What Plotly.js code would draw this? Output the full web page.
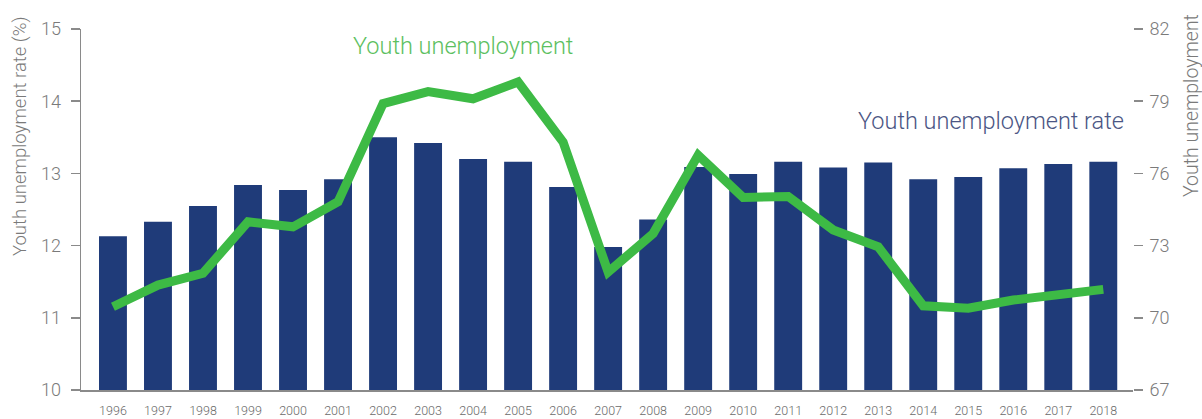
<!DOCTYPE html>
<html>
<head>
<meta charset="utf-8">
<script src="https://cdn.plot.ly/plotly-3.0.1.min.js"></script>
<style>html,body{margin:0;padding:0;background:#fff;}#chart{width:1202px;height:419px;}</style>
</head>
<body>
<div id="chart"></div>
<script>
const years = ['1996','1997','1998','1999','2000','2001','2002','2003','2004','2005','2006','2007','2008','2009','2010','2011','2012','2013','2014','2015','2016','2017','2018'];
const rate = [12.13, 12.33, 12.55, 12.84, 12.77, 12.92, 13.50, 13.42, 13.20, 13.16, 12.81, 11.98, 12.36, 13.09, 12.99, 13.16, 13.08, 13.15, 12.92, 12.95, 13.07, 13.13, 13.16];
const unemployment = [70.46, 71.36, 71.85, 73.99, 73.78, 74.82, 78.9, 79.4, 79.1, 79.8, 77.3, 71.9, 73.5, 76.76, 75.0, 75.04, 73.65, 72.95, 70.5, 70.4, 70.74, 70.95, 71.18];
const leftTicks = [10, 11, 12, 13, 14, 15];
const rightTicks = [67, 70, 73, 76, 79, 82];

const FONT = 'Roboto, "Open Sans", sans-serif';
const GRAY = '#7a7a7a';

const traces = [
  {
    type: 'bar', x: years, y: rate, name: 'Youth unemployment rate',
    marker: {color: '#1f3b79'}, width: 0.62, yaxis: 'y', hoverinfo: 'x+y'
  },
  {
    type: 'scatter', mode: 'lines', x: years, y: unemployment, name: 'Youth unemployment',
    line: {color: '#3dba45', width: 9, shape: 'linear'}, yaxis: 'y2'
  }
];

const layout = {
  width: 1202, height: 419,
  margin: {l: 81, r: 69, t: 29, b: 29, pad: 0},
  paper_bgcolor: '#ffffff', plot_bgcolor: '#ffffff',
  showlegend: false,
  font: {family: FONT, color: GRAY, weight: 300},
  xaxis: {
    type: 'category', range: [-0.71, 22.66],
    showgrid: false, zeroline: false,
    showline: true, linecolor: '#8a8a8a', linewidth: 1.5,
    ticks: '', tickfont: {size: 12.5, color: '#6a6a6a', family: FONT, weight: 300},
    ticklabelstandoff: 8, fixedrange: true
  },
  yaxis: {
    range: [10, 15], tickvals: leftTicks, showgrid: false, zeroline: false,
    showline: true, linecolor: '#8a8a8a', linewidth: 1.5,
    ticks: 'outside', ticklen: 9, tickwidth: 1.5, tickcolor: '#8a8a8a',
    tickfont: {size: 18, color: GRAY, family: FONT, weight: 300}, ticklabelstandoff: 6
  },
  yaxis2: {
    range: [67, 82], tickvals: rightTicks, overlaying: 'y', side: 'right',
    showgrid: false, zeroline: false, showline: false,
    ticks: 'outside', ticklen: 9, tickwidth: 1.5, tickcolor: '#8a8a8a',
    tickfont: {size: 18, color: GRAY, family: FONT, weight: 300}, ticklabelstandoff: 3
  },
  bargap: 0.38,
  annotations: [
    {text: 'Youth unemployment', xref: 'paper', yref: 'paper',
     x: (463 - 81) / 1052, y: (390 - 46) / 361, xanchor: 'center', yanchor: 'middle',
     showarrow: false, font: {size: 23.5, color: '#5cc060', family: FONT, weight: 300}},
    {text: 'Youth unemployment rate', xref: 'paper', yref: 'paper',
     x: (991 - 81) / 1052, y: (390 - 121) / 361, xanchor: 'center', yanchor: 'middle',
     showarrow: false, font: {size: 23.5, color: '#4b5684', family: FONT, weight: 300}},
    {text: 'Youth unemployment rate (%)', xref: 'paper', yref: 'paper',
     x: (20 - 81) / 1052, y: (390 - 137) / 361, xanchor: 'center', yanchor: 'middle',
     textangle: -90, showarrow: false, font: {size: 18.5, color: GRAY, family: FONT, weight: 300}},
    {text: 'Youth unemployment', xref: 'paper', yref: 'paper',
     x: (1192 - 81) / 1052, y: (390 - 106) / 361, xanchor: 'center', yanchor: 'middle',
     textangle: -90, showarrow: false, font: {size: 19.5, color: GRAY, family: FONT, weight: 300}}
  ]
};

Plotly.newPlot('chart', traces, layout, {displayModeBar: false, staticPlot: true});
</script>
</body>
</html>
